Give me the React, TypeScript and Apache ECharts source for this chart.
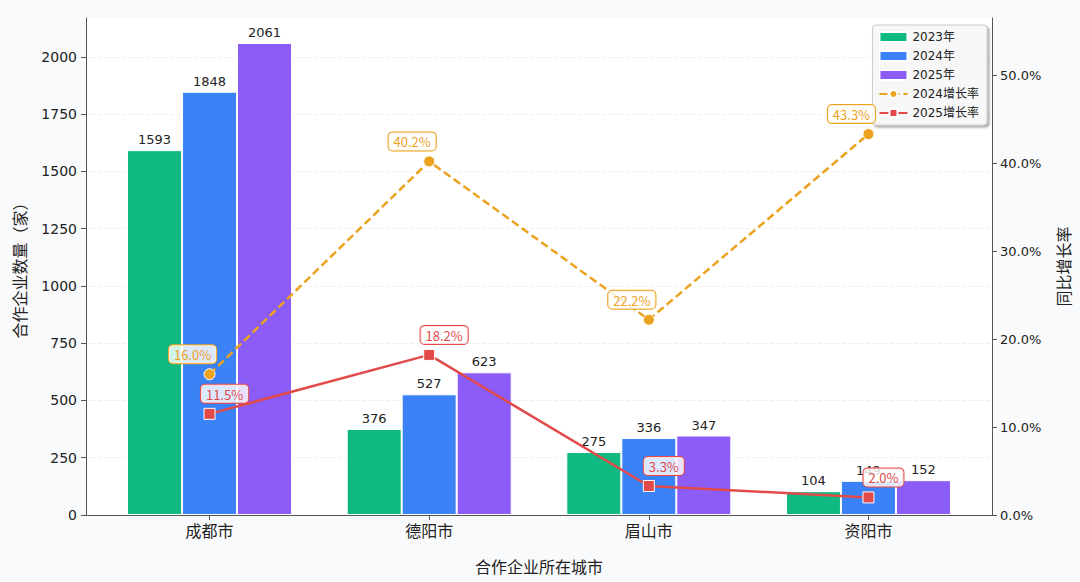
import React, { useEffect, useRef } from 'react';
import * as echarts from 'echarts';

const cities = ['成都市', '德阳市', '眉山市', '资阳市'];
const count2023 = [1593, 376, 275, 104];
const count2024 = [1848, 527, 336, 149];
const count2025 = [2061, 623, 347, 152];
const growth2024 = [16.0, 40.2, 22.2, 43.3];
const growth2025 = [11.5, 18.2, 3.3, 2.0];
const leftTicks = [0, 250, 500, 750, 1000, 1250, 1500, 1750, 2000];
const rightTicks = [0, 10, 20, 30, 40, 50];

const FONT = '"DejaVu Sans", "Noto Sans CJK SC", sans-serif';
const GREEN = '#10b981';
const BLUE = '#3b82f6';
const PURPLE = '#8b5cf6';
const ORANGE = '#eba21f';
const RED = '#e24a4a';

const App: React.FC = () => {
  const chartRef = useRef<HTMLDivElement>(null);

  useEffect(() => {
    document.body.style.margin = '0';
    if (!chartRef.current) return;
    const chart = echarts.init(chartRef.current, null, { renderer: 'svg' });

    const barSeries = (name: string, values: number[], color: string) => ({
      name,
      type: 'bar',
      data: values.map((v, i) => [i, v]),
      barWidth: 55,
      barGap: '0%',
      itemStyle: { color, borderColor: '#ffffff', borderWidth: 1 },
      label: {
        show: true,
        position: 'top',
        distance: 4,
        color: '#222',
        fontSize: 13,
        fontFamily: FONT,
      },
      z: 2,
    });

    const lineSeries = (
      name: string,
      values: number[],
      color: string,
      symbol: string,
      dashed: boolean,
      dx: number
    ) => ({
      name,
      type: 'line',
      yAxisIndex: 1,
      data: values.map((v, i) => [i, v]),
      symbol,
      symbolSize: 11,
      lineStyle: { color, width: 2.5, type: dashed ? [8, 4] : 'solid' },
      itemStyle: { color, borderColor: '#ffffff', borderWidth: 1 },
      label: {
        show: true,
        position: 'top',
        distance: 5,
        offset: [dx, 0],
        formatter: (p: any) => p.value[1].toFixed(1) + '%',
        color,
        fontSize: 13,
        fontFamily: '"Noto Sans CJK SC", sans-serif',
        backgroundColor: 'rgba(255,255,255,0.82)',
        borderColor: color,
        borderWidth: 1,
        borderRadius: 4,
        padding: [3, 5, 2, 5],
      },
      z: 5,
    });

    chart.setOption({
      animation: false,
      backgroundColor: '#f9fafb',
      textStyle: { fontFamily: FONT },
      grid: {
        left: 86,
        right: 88,
        top: 18,
        bottom: 67,
        show: true,
        backgroundColor: '#ffffff',
        borderWidth: 0,
      },
      legend: {
        orient: 'vertical',
        right: 93,
        top: 25,
        itemWidth: 28,
        itemHeight: 10,
        itemGap: 7,
        padding: [6, 8, 6, 6],
        backgroundColor: '#f7f7f7',
        borderColor: '#cccccc',
        borderWidth: 1,
        borderRadius: 3,
        shadowColor: 'rgba(0,0,0,0.35)',
        shadowBlur: 2,
        shadowOffsetX: 2,
        shadowOffsetY: 2,
        textStyle: { color: '#222', fontSize: 12, fontFamily: FONT },
        data: [
          { name: '2023年', icon: 'rect' },
          { name: '2024年', icon: 'rect' },
          { name: '2025年', icon: 'rect' },
          { name: '2024增长率' },
          { name: '2025增长率' },
        ],
      },
      xAxis: {
        type: 'value',
        min: -0.5625,
        max: 3.5625,
        name: '合作企业所在城市',
        nameLocation: 'middle',
        nameGap: 44,
        nameTextStyle: { fontSize: 16, color: '#222', fontFamily: FONT },
        axisLine: { show: true, onZero: false, lineStyle: { color: '#555', width: 1 } },
        axisTick: {
          show: true,
          length: 5,
          customValues: [0, 1, 2, 3],
          lineStyle: { color: '#555' },
        },
        axisLabel: {
          customValues: [0, 1, 2, 3],
          formatter: (v: number) => cities[Math.round(v)] ?? '',
          fontSize: 16,
          color: '#222',
          margin: 8,
          fontFamily: FONT,
        },
        splitLine: { show: false },
      },
      yAxis: [
        {
          type: 'value',
          min: 0,
          max: 2170,
          name: '合作企业数量（家）',
          nameLocation: 'middle',
          nameGap: 58,
          nameTextStyle: { fontSize: 16, color: '#222', fontFamily: FONT },
          axisLine: { show: true, onZero: false, lineStyle: { color: '#555', width: 1 } },
          axisTick: {
            show: true,
            length: 5,
            customValues: leftTicks,
            lineStyle: { color: '#555' },
          },
          axisLabel: {
            customValues: leftTicks,
            formatter: (v: number) => String(v),
            fontSize: 14,
            color: '#222',
            margin: 9,
            fontFamily: FONT,
          },
          splitLine: {
            show: true,
            lineStyle: { color: '#f1f1f1', type: 'dashed' },
          },
        },
        {
          type: 'value',
          min: 0,
          max: 56.5,
          name: '同比增长率',
          nameLocation: 'middle',
          nameGap: 64,
          nameRotate: 90,
          nameTextStyle: { fontSize: 16, color: '#222', fontFamily: FONT },
          axisLine: { show: true, onZero: false, lineStyle: { color: '#555', width: 1 } },
          axisTick: {
            show: true,
            length: 5,
            customValues: rightTicks,
            lineStyle: { color: '#555' },
          },
          axisLabel: {
            customValues: rightTicks,
            formatter: (v: number) => v.toFixed(1) + '%',
            fontSize: 13,
            color: '#222',
            margin: 8,
            fontFamily: FONT,
          },
          splitLine: { show: false },
        },
      ],
      series: [
        barSeries('2023年', count2023, GREEN),
        barSeries('2024年', count2024, BLUE),
        barSeries('2025年', count2025, PURPLE),
        lineSeries('2024增长率', growth2024, ORANGE, 'circle', true, -17),
        lineSeries('2025增长率', growth2025, RED, 'rect', false, 15),
      ],
    });

    return () => {
      chart.dispose();
    };
  }, []);

  return <div ref={chartRef} style={{ width: '1080px', height: '582px' }} />;
};

export default App;
